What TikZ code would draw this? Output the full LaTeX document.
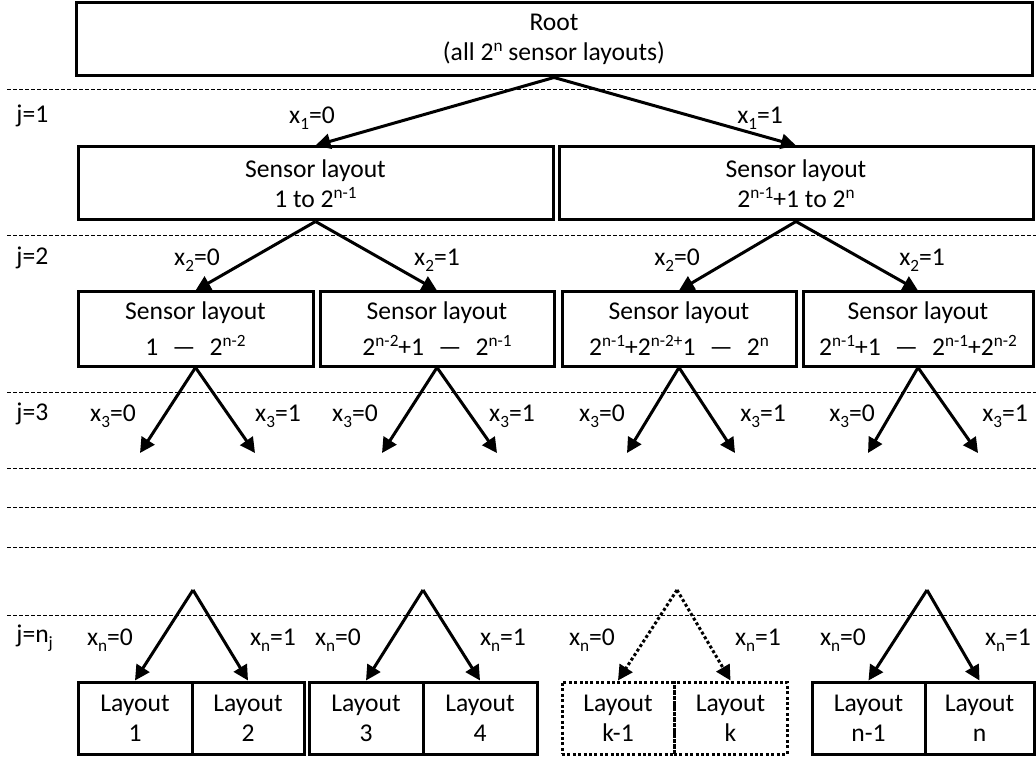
\documentclass[tikz,border=0pt]{standalone}
\usepackage{fontspec}
\setmainfont{Carlito}
\usetikzlibrary{arrows.meta}
\newcommand{\hi}[1]{\raisebox{0.75ex}{\fontsize{8.6}{9}\selectfont #1}}
\newcommand{\lo}[1]{\raisebox{-0.5ex}{\fontsize{8.6}{9}\selectfont #1}}
\newcommand{\dsh}{\hspace{0.55em}—\hspace{0.55em}}
\begin{document}
\begin{tikzpicture}[x=0.5pt,y=-0.5pt,
  every node/.style={font=\fontsize{12.8}{15}\selectfont},
  box/.style 2 args={draw, line width=1.5pt, minimum width=#1*0.5pt, minimum height=#2*0.5pt, inner sep=0pt, align=center},
  dotbox/.style={dash pattern=on 1.5pt off 1.2pt},
  sep/.style={line width=0.5pt, dash pattern=on 2pt off 1pt},
  arr/.style={line width=1.5pt, -{Triangle[length=7.5pt,width=7.5pt]}},
  dotarr/.style={arr, dash pattern=on 1.5pt off 1.2pt},
  lab/.style={inner sep=0pt},
  jlab/.style={inner sep=0pt, anchor=west}]
\useasboundingbox (0,0) rectangle (1036,758);

% separators
\foreach \yy in {90,236,392,468,507,547,615}{
  \draw[sep] (7,\yy) -- (1036,\yy);
}

% level labels
\node[jlab] (j1) at (16,116) {j=1};
\node[jlab] (j2) at (16,258) {j=2};
\node[jlab] (j3) at (16,414) {j=3};
\node[jlab] (jn) at (16,638) {j=n\lo{j}};

% root
\node[box={956}{73}] (root) at (554,39.5) {Root\\(all 2\hi{n} sensor layouts)};

% level 1
\node[box={475}{73}] (a) at (315.5,183.5) {Sensor layout\\1 to 2\hi{n-1}};
\node[box={474}{73}] (b) at (796,183.5) {Sensor layout\\2\hi{n-1}+1 to 2\hi{n}};

% level 2
\node[box={235}{74}] (aa) at (195.5,329) {Sensor layout\\[3pt]1\dsh 2\hi{n-2}};
\node[box={234}{74}] (ab) at (437,329) {Sensor layout\\[3pt]2\hi{n-2}+1\dsh 2\hi{n-1}};
\node[box={234}{74}] (ba) at (679,329) {Sensor layout\\[3pt]2\hi{n-1}+2\hi{n-2+}1\dsh 2\hi{n}};
\node[box={230}{74}] (bb) at (918,329) {Sensor layout\\[3pt]2\hi{n-1}+1\dsh 2\hi{n-1}+2\hi{n-2}};

% leaves
\node[box={114}{72}] (l1) at (135,718) {Layout\\1};
\node[box={112}{72}] (l2) at (248,718) {Layout\\2};
\node[box={114}{72}] (l3) at (366,718) {Layout\\3};
\node[box={114}{72}] (l4) at (480,718) {Layout\\4};
\node[box={112}{72},dotbox] (lk1) at (618,718) {Layout\\k-1};
\node[box={113}{72},dotbox] (lk) at (730.5,718) {Layout\\k};
\node[box={113}{72}] (ln1) at (868.5,718) {Layout\\n-1};
\node[box={109}{72}] (ln) at (979.5,718) {Layout\\n};

% arrows level 1, 2
\draw[arr] (root.south) -- (a.north);
\draw[arr] (root.south) -- (b.north);
\draw[arr] (a.south) -- (aa.north);
\draw[arr] (a.south) -- (ab.north);
\draw[arr] (b.south) -- (ba.north);
\draw[arr] (b.south) -- (bb.north);

% arrows level 3 (free ends)
\coordinate (e1) at (140,453);
\coordinate (e2) at (255,453);
\coordinate (e3) at (382,453);
\coordinate (e4) at (497,453);
\coordinate (e5) at (627,453);
\coordinate (e6) at (735,453);
\coordinate (e7) at (868,453);
\coordinate (e8) at (978,453);
\draw[arr] (aa.south) -- (e1);
\draw[arr] (aa.south) -- (e2);
\draw[arr] (ab.south) -- (e3);
\draw[arr] (ab.south) -- (e4);
\draw[arr] (ba.south) -- (e5);
\draw[arr] (ba.south) -- (e6);
\draw[arr] (bb.south) -- (e7);
\draw[arr] (bb.south) -- (e8);

% last level
\coordinate (p1) at (193,590);
\coordinate (p2) at (423,590);
\coordinate (p3) at (677,590);
\coordinate (p4) at (927,590);
\draw[arr] (p1) -- (l1.north);
\draw[arr] (p1) -- (l2.north);
\draw[arr] (p2) -- (l3.north);
\draw[arr] (p2) -- (l4.north);
\draw[dotarr] (p3) -- (lk1.north);
\draw[dotarr] (p3) -- (lk.north);
\draw[arr] (p4) -- (ln1.north);
\draw[arr] (p4) -- (ln.north);

% edge labels
\node[lab] (x10) at (312,118) {x\lo{1}=0};
\node[lab] (x11) at (760,118) {x\lo{1}=1};

\node[lab] (x20a) at (197,260) {x\lo{2}=0};
\node[lab] (x21a) at (437,260) {x\lo{2}=1};
\node[lab] (x20b) at (677,260) {x\lo{2}=0};
\node[lab] (x21b) at (922,260) {x\lo{2}=1};

\node[lab] (x30a) at (113,416) {x\lo{3}=0};
\node[lab] (x31a) at (278,416) {x\lo{3}=1};
\node[lab] (x30b) at (355,416) {x\lo{3}=0};
\node[lab] (x31b) at (512,416) {x\lo{3}=1};
\node[lab] (x30c) at (602,416) {x\lo{3}=0};
\node[lab] (x31c) at (763,416) {x\lo{3}=1};
\node[lab] (x30d) at (852,416) {x\lo{3}=0};
\node[lab] (x31d) at (1005,416) {x\lo{3}=1};

\node[lab] (xn0a) at (110,640) {x\lo{n}=0};
\node[lab] (xn1a) at (273,640) {x\lo{n}=1};
\node[lab] (xn0b) at (338,640) {x\lo{n}=0};
\node[lab] (xn1b) at (503,640) {x\lo{n}=1};
\node[lab] (xn0c) at (592,640) {x\lo{n}=0};
\node[lab] (xn1c) at (758,640) {x\lo{n}=1};
\node[lab] (xn0d) at (843,640) {x\lo{n}=0};
\node[lab] (xn1d) at (1008,640) {x\lo{n}=1};
\end{tikzpicture}
\end{document}
